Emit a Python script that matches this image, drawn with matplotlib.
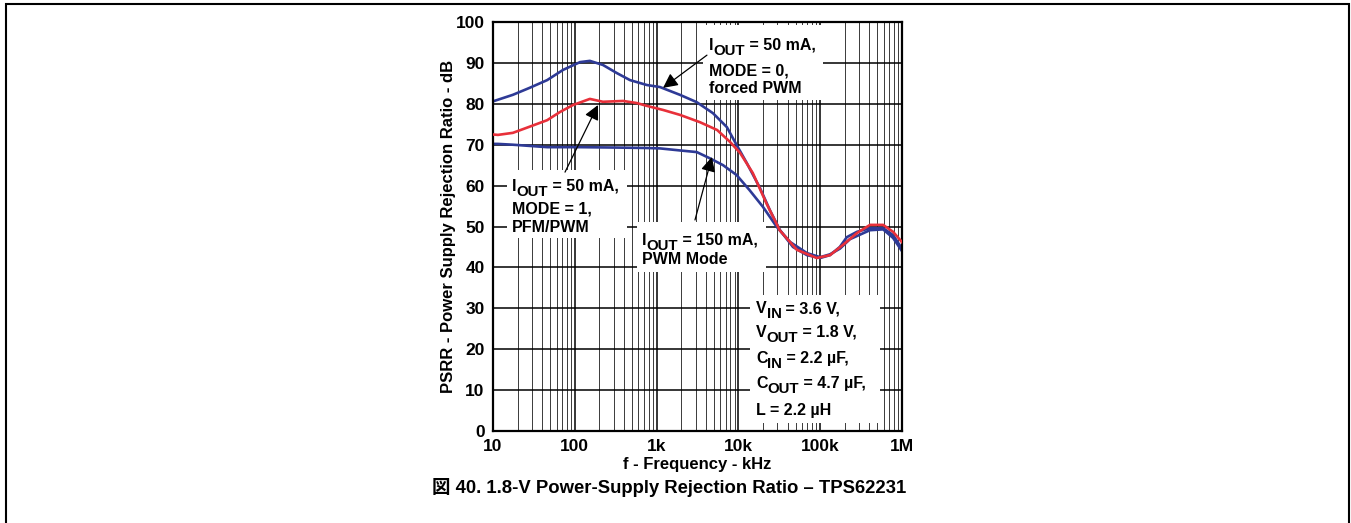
import matplotlib
matplotlib.use("Agg")
import matplotlib.pyplot as plt
from matplotlib.patches import Rectangle
from matplotlib.ticker import FixedLocator, NullFormatter
from matplotlib.transforms import offset_copy

plt.rcParams['font.family'] = ['Liberation Sans', 'Noto Sans CJK JP', 'DejaVu Sans']
plt.rcParams['font.weight'] = 'bold'
plt.rcParams['axes.labelweight'] = 'bold'

# PSRR curves, frequency in Hz (axis labelled as shown on the datasheet)
f_mode0 = [10, 11.5, 17.5, 28, 46, 72, 116, 153, 221, 328, 473, 760, 1100, 1930, 3100,
           4900, 7240, 9550, 12700, 18400, 24300, 32300, 46500, 69000, 100e3, 132e3,
           174e3, 212e3, 282e3, 407e3, 589e3, 780e3, 1e6]
db_mode0 = [80.6, 81.0, 82.2, 83.9, 85.8, 88.3, 90.2, 90.5, 89.5, 87.5, 85.8, 84.6, 84.1, 82.2, 80.4,
            77.7, 74.3, 69.9, 65.5, 59.4, 54.0, 49.1, 45.0, 43.0, 42.3, 43.0,
            45.0, 47.4, 48.7, 49.6, 49.6, 47.9, 44.6]

f_mode1 = [10, 11.5, 17.5, 28, 46, 66, 95, 153, 221, 390, 570, 760, 1200, 1930, 3400,
           5500, 7900, 10500, 15000, 22000, 32000, 52000, 91000, 132e3, 190e3, 282e3,
           407e3, 589e3, 780e3, 1e6]
db_mode1 = [72.5, 72.4, 72.9, 74.4, 76.0, 78.0, 79.7, 81.2, 80.5, 80.7, 80.2, 79.5, 78.5, 77.3, 75.5,
            73.6, 70.7, 68.0, 63.1, 55.7, 49.1, 44.3, 42.3, 43.0, 45.5, 48.4,
            50.4, 50.4, 48.7, 46.2]

f_150ma = [10, 11.5, 17.5, 46, 116, 330, 760, 1100, 1930, 3100, 4460, 6500, 9500, 13700,
           20000, 29500, 43000, 69000, 100e3, 132e3, 175e3, 231e3, 407e3, 589e3, 780e3, 1e6]
db_150ma = [70.2, 70.2, 70.0, 69.4, 69.4, 69.3, 69.2, 69.1, 68.6, 68.2, 66.7, 65.0, 62.6, 58.9,
            54.8, 49.9, 46.2, 43.5, 42.5, 43.2, 44.6, 46.9, 49.1, 49.3, 47.2, 44.0]

x_ticks = [10, 100, 1e3, 1e4, 1e5, 1e6]
x_ticklabels = ['10', '100', '1k', '10k', '100k', '1M']
y_ticks = list(range(0, 101, 10))

blue = '#2e3a96'
red = '#e8303a'

fig = plt.figure(figsize=(13.51, 5.23), dpi=100)
ax = fig.add_axes([0.3649, 0.1759, 0.3027, 0.782])
renderer = fig.canvas.get_renderer()

ax.set_xscale('log')
ax.set_xlim(10, 1e6)
ax.set_ylim(0, 100)
ax.set_axisbelow(True)

minor = [m * 10 ** d for d in range(1, 6) for m in range(2, 10)]
ax.xaxis.set_major_locator(FixedLocator(x_ticks))
ax.xaxis.set_minor_locator(FixedLocator(minor))
ax.xaxis.set_minor_formatter(NullFormatter())
ax.set_xticks(x_ticks)
ax.set_xticklabels(x_ticklabels)
ax.set_yticks(y_ticks)
ax.tick_params(which='both', length=0, labelsize=12.5, pad=6)
ax.grid(which='major', color='black', lw=1.1)
ax.grid(which='minor', axis='x', color='#3a3a3a', lw=0.7)
for s in ax.spines.values():
    s.set_linewidth(1.6)

ax.set_xlabel('f - Frequency - kHz', fontsize=12, labelpad=2)
ax.set_ylabel('PSRR - Power Supply Rejection Ratio - dB', fontsize=12, labelpad=0)

# white panels behind the annotation text
boxes = [(0.513, 0.809, 0.294, 0.184),
         (0.034, 0.472, 0.294, 0.166),
         (0.352, 0.389, 0.315, 0.121),
         (0.628, 0.020, 0.318, 0.313)]
for bx, by, bw, bh in boxes:
    ax.add_patch(Rectangle((bx, by), bw, bh, transform=ax.transAxes,
                           facecolor='white', edgecolor='none', zorder=1))

ax.plot(f_150ma, db_150ma, color=blue, lw=1.9, zorder=2)
ax.plot(f_mode0, db_mode0, color=blue, lw=1.9, zorder=2)
ax.plot(f_mode1, db_mode1, color=red, lw=1.9, zorder=3)


def rich_line(x, y, parts):
    # parts: (text, subscript?) pieces laid out left to right
    dx = 0.0
    for txt, sub in parts:
        size = 10.8 if sub else 11.5
        dy = -3.8 if sub else 0.0
        tr = offset_copy(ax.transAxes, fig=fig, x=dx, y=dy, units='points')
        t = ax.text(x, y, txt, transform=tr, fontsize=size, va='baseline',
                    ha='left', zorder=4)
        w = t.get_window_extent(renderer).width
        dx += w * 72.0 / fig.dpi


def label(x, ys, lines):
    for y, line in zip(ys, lines):
        rich_line(x, y, line)


label(0.528, [0.932, 0.870, 0.826],
      [[('I', False), ('OUT', True), (' = 50 mA,', False)],
       [('MODE = 0,', False)], [('forced PWM', False)]])
label(0.046, [0.587, 0.533, 0.487],
      [[('I', False), ('OUT', True), (' = 50 mA,', False)],
       [('MODE = 1,', False)], [('PFM/PWM', False)]])
label(0.364, [0.455, 0.408],
      [[('I', False), ('OUT', True), (' = 150 mA,', False)],
       [('PWM Mode', False)]])
label(0.643, [0.288, 0.230, 0.166, 0.105, 0.039],
      [[('V', False), ('IN', True), (' = 3.6 V,', False)],
       [('V', False), ('OUT', True), (' = 1.8 V,', False)],
       [('C', False), ('IN', True), (' = 2.2 µF,', False)],
       [('C', False), ('OUT', True), (' = 4.7 µF,', False)],
       [('L = 2.2 µH', False)]])

arrow = dict(arrowstyle='-|>', color='black', lw=0.9, mutation_scale=22,
             shrinkA=0, shrinkB=0)
ax.annotate('', xy=(1200, 83.9), xytext=(4130, 91.9), arrowprops=arrow, zorder=5)
ax.annotate('', xy=(192, 79.7), xytext=(76, 63.3), arrowprops=arrow, zorder=5)
ax.annotate('', xy=(4750, 67.0), xytext=(2950, 51.6), arrowprops=arrow, zorder=5)

fig.text(432 / 1351, 1 - 493 / 523, '図 40. 1.8-V Power-Supply Rejection Ratio – TPS62231',
         fontsize=13.3, ha='left', va='baseline')

fig.patches.append(Rectangle((6 / 1351, -0.05), 1343 / 1351, 1.05 - 4.5 / 523,
                             transform=fig.transFigure, fill=False,
                             edgecolor='black', lw=1.5))

fig.savefig('out.png', dpi=100)
